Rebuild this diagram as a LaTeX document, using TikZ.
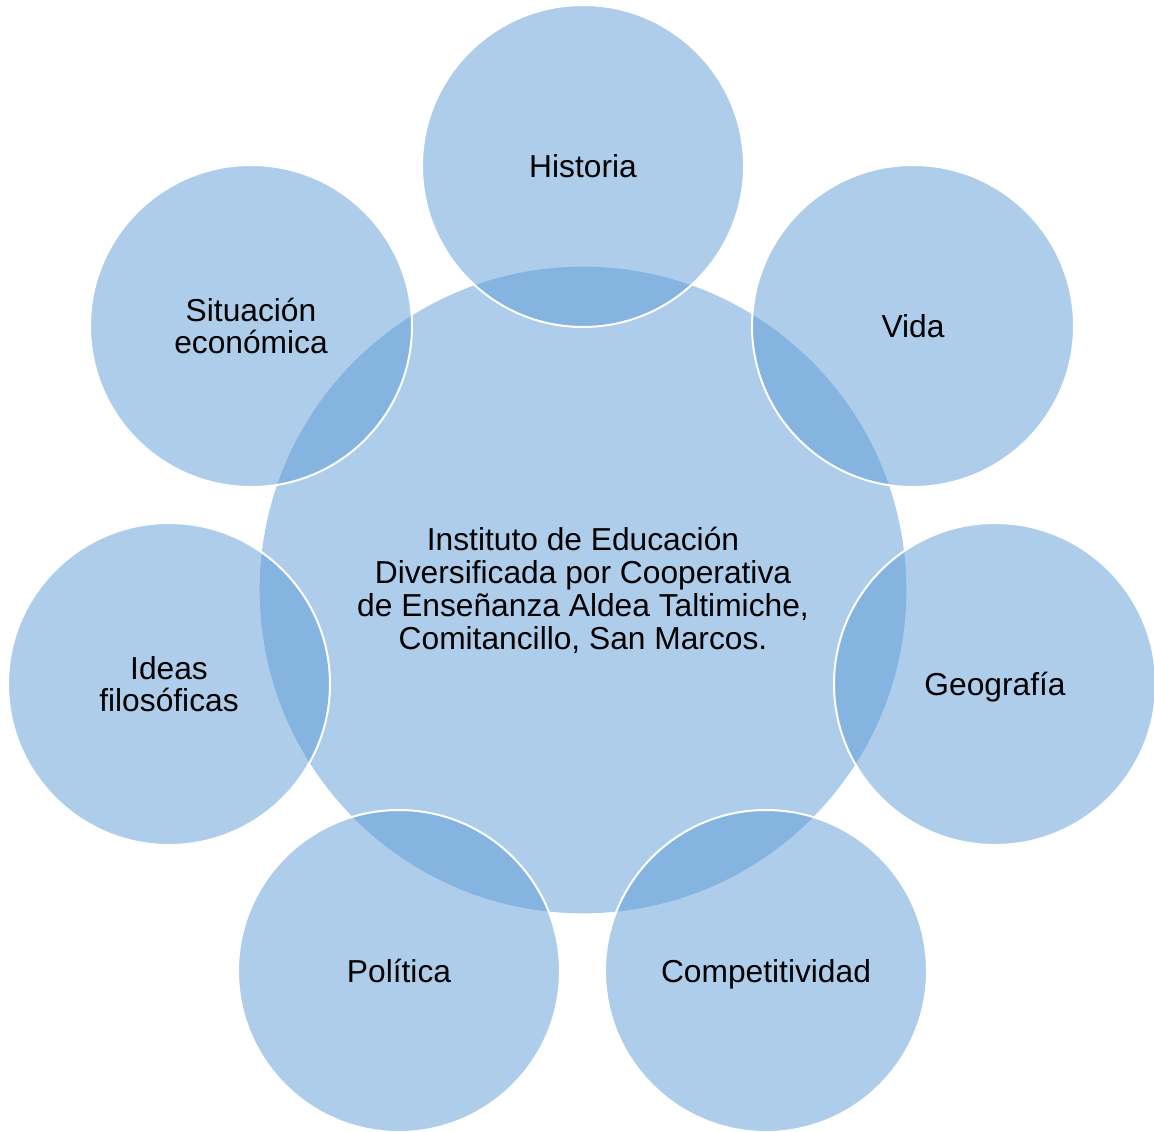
\documentclass[tikz,border=0pt]{standalone}
\usepackage{fontspec}
\setmainfont{Liberation Sans}
\definecolor{bubble}{HTML}{5B9BD5}

\begin{document}
\begin{tikzpicture}[x=0.75pt, y=-0.75pt,
  hub/.style={circle, fill=bubble, fill opacity=0.5, text opacity=1,
    inner sep=0pt, minimum size=485pt, align=center,
    font=\fontsize{23.8}{24.75}\selectfont},
  petal/.style={hub, draw=white, line width=1.5pt, minimum size=241.5pt,
    font=\fontsize{23.8}{24}\selectfont}]

\useasboundingbox (0,0) rectangle (1154,1132);

\node[hub] (inst) at (583,590) {Instituto de Educación\\Diversificada por Cooperativa\\de Enseñanza Aldea Taltimiche,\\Comitancillo, San Marcos.};

\node[petal] (hist) at (583,166) {Historia};
\node[petal] (vida) at (913,326) {Vida};
\node[petal, text depth=0pt] (geo)  at (995,684) {Geografía};
\node[petal, text depth=0pt] (comp) at (766,971) {Competitividad};
\node[petal] (pol)  at (399,971) {Política};
\node[petal] (ideas) at (169,684) {Ideas\\filosóficas};
\node[petal] (econ) at (251,326) {Situación\\económica};

\end{tikzpicture}
\end{document}
